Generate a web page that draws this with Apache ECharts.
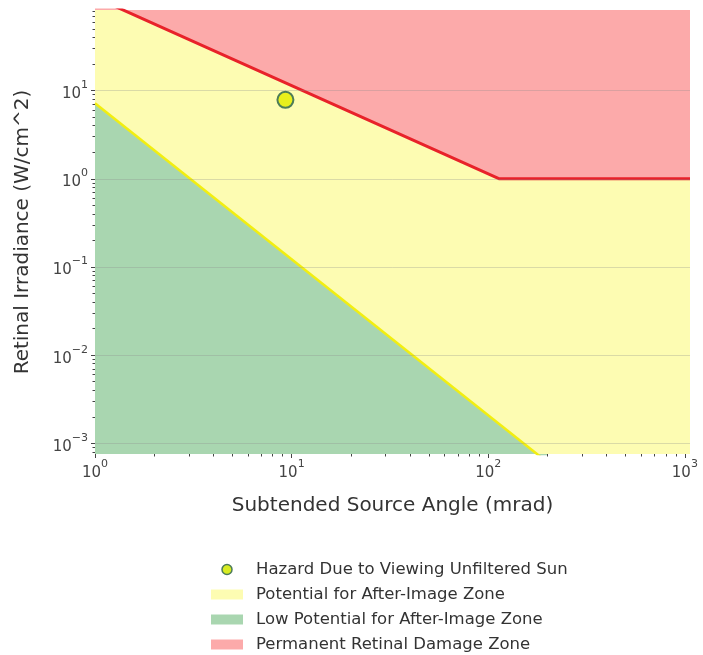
<!DOCTYPE html>
<html>
<head>
<meta charset="utf-8">
<script src="https://cdn.jsdelivr.net/npm/echarts@6/dist/echarts.min.js"></script>
<style>
  html, body { margin: 0; padding: 0; background: #fff; }
  #chart { width: 703px; height: 655px; }
</style>
</head>
<body>
<div id="chart"></div>
<script>
// axis extents
const angleMin = 1
const angleMax = 1062
const irrMin = 0.000757
const irrMax = 82

// major ticks
const angleTicks = [1, 10, 100, 1000]
const irrTicks = [0.001, 0.01, 0.1, 1, 10]

// zones
const potentialAngle = [1, 1062]
const potentialIrr = [82, 82]

const lowAngle = [1, 200]
const lowIrr = [7.2, 0.00061]

const damageAngle = [1, 114, 1062]
const damageIrr = [114, 1, 1]

// the sun
const sunAngle = [9.3]
const sunIrr = [7.85]

// minor ticks 2..9 in every decade
function minorTicks(lo, hi) {
    let out = []
    for (let e = Math.floor(Math.log10(lo)); e <= Math.ceil(Math.log10(hi)); e++) {
        for (let k = 2; k <= 9; k++) {
            let v = k * Math.pow(10, e)
            if (v > lo && v < hi) out.push(v)
        }
    }
    return out
}

function pairs(xs, ys) {
    return xs.map((x, i) => [x, ys[i]])
}

function powLabel(v) {
    let e = Math.round(Math.log10(v))
    return '{b|10}{s|' + String(e).replace('-', '\u2212') + '}'
}

const font = 'DejaVu Sans'
const tickColor = '#444'

const labelRich = {
    b: {fontFamily: font, fontSize: 15, color: tickColor, lineHeight: 22, verticalAlign: 'bottom'},
    s: {fontFamily: font, fontSize: 11, color: tickColor, lineHeight: 11, verticalAlign: 'top', padding: [0, 0, 2, 0]}
}

let myChart = echarts.init(document.getElementById('chart'))

let option = {
    animation: false,
    grid: {left: 95, right: 13, top: 10, bottom: 201},
    xAxis: [
        {
            type: 'log', min: angleMin, max: angleMax, position: 'bottom', z: 5,
            axisLine: {show: false},
            axisTick: {customValues: angleTicks, length: 4, lineStyle: {color: tickColor}},
            axisLabel: {customValues: angleTicks, formatter: powLabel, rich: labelRich, margin: 5},
            splitLine: {show: false},
            name: 'Subtended Source Angle (mrad)',
            nameLocation: 'middle', nameGap: 42,
            nameTextStyle: {fontFamily: font, fontSize: 20, color: '#333'}
        },
        {
            type: 'log', min: angleMin, max: angleMax, position: 'bottom', z: 5,
            axisLine: {show: false},
            axisTick: {customValues: minorTicks(angleMin, angleMax), length: 2.5, lineStyle: {color: tickColor}},
            axisLabel: {show: false},
            splitLine: {show: false}
        }
    ],
    yAxis: [
        {
            type: 'log', min: irrMin, max: irrMax, position: 'left', z: 5,
            axisLine: {show: false},
            axisTick: {customValues: irrTicks, length: 4, lineStyle: {color: tickColor}},
            axisLabel: {customValues: irrTicks, formatter: powLabel, rich: labelRich, margin: 7},
            splitLine: {show: true, lineStyle: {color: 'rgba(140,140,140,0.3)', width: 1}},
            name: 'Retinal Irradiance (W/cm^2)',
            nameLocation: 'middle', nameRotate: 90, nameGap: 62,
            nameTextStyle: {fontFamily: font, fontSize: 20, color: '#333'}
        },
        {
            type: 'log', min: irrMin, max: irrMax, position: 'left', z: 5,
            axisLine: {show: false},
            axisTick: {customValues: minorTicks(irrMin, irrMax), length: 2.5, lineStyle: {color: tickColor}},
            axisLabel: {show: false},
            splitLine: {show: false}
        }
    ],
    legend: {
        orient: 'vertical',
        left: 211, bottom: 1, padding: 0,
        itemWidth: 32, itemHeight: 10, itemGap: 6,
        textStyle: {fontFamily: font, fontSize: 16.5, color: '#333', lineHeight: 19, padding: [0, 0, 0, 8]},
        data: [
            {name: 'Hazard Due to Viewing Unfiltered Sun', icon: 'circle',
                itemStyle: {color: '#d8ec22', borderColor: '#4c7c58', borderWidth: 1.5}},
            {name: 'Potential for After-Image Zone', icon: 'rect', itemStyle: {color: '#fdfcb2', borderWidth: 0}},
            {name: 'Low Potential for After-Image Zone', icon: 'rect', itemStyle: {color: '#a9d6b0', borderWidth: 0}},
            {name: 'Permanent Retinal Damage Zone', icon: 'rect', itemStyle: {color: '#fcaaaa', borderWidth: 0}}
        ]
    },
    series: [
        {
            name: 'Potential for After-Image Zone',
            type: 'line', z: 1, symbol: 'none',
            data: pairs(potentialAngle, potentialIrr),
            itemStyle: {color: '#fdfcb2'},
            lineStyle: {width: 0},
            areaStyle: {color: '#fdfcb2', opacity: 1, origin: 'start'}
        },
        {
            name: 'Low Potential for After-Image Zone',
            type: 'line', z: 2, symbol: 'none',
            data: pairs(lowAngle, lowIrr),
            itemStyle: {color: '#a9d6b0'},
            lineStyle: {color: '#f2ee10', width: 2.5},
            areaStyle: {color: '#a9d6b0', opacity: 1, origin: 'start'}
        },
        {
            name: 'Permanent Retinal Damage Zone',
            type: 'line', z: 3, symbol: 'none',
            data: pairs(damageAngle, damageIrr),
            itemStyle: {color: '#fcaaaa'},
            lineStyle: {color: '#e8222a', width: 3},
            areaStyle: {color: '#fcaaaa', opacity: 1, origin: 'end'}
        },
        {
            name: 'Hazard Due to Viewing Unfiltered Sun',
            type: 'scatter', z: 10,
            data: pairs(sunAngle, sunIrr),
            symbolSize: 16,
            itemStyle: {color: '#e8ef1c', borderColor: '#4d7d57', borderWidth: 2, opacity: 1}
        }
    ]
}

option && myChart.setOption(option)
</script>
</body>
</html>
